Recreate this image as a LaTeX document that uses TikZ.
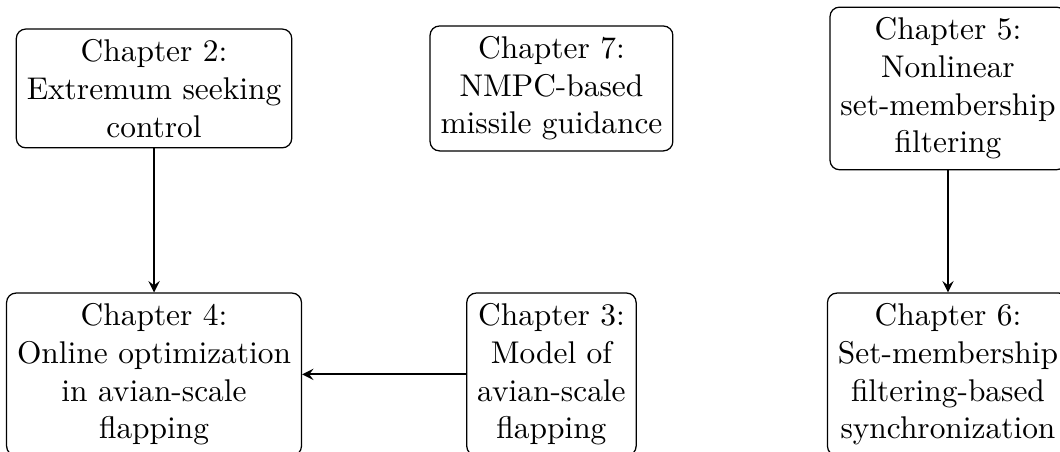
\documentclass[tikz,border=0pt]{standalone}
\usepackage{tikz}
\usetikzlibrary{positioning}
\tikzstyle{chapter} = [rectangle, rounded corners=3pt, draw=black, align=center, inner sep=3.33pt]
\tikzstyle{connector} = [semithick,->,>=stealth]

\begin{document}
\begin{tikzpicture}
\useasboundingbox (0,0) rectangle (11.864,-5.059);

\node[chapter] (ch2) at (1.724,-0.99) {Chapter 2:\\Extremum seeking\\control};
\node[chapter] (ch7) at (6.172,-0.99) {Chapter 7:\\NMPC-based\\missile guidance};
\node[chapter] (ch5) at (10.61,-0.99) {Chapter 5:\\Nonlinear\\set-membership\\filtering};

\node[chapter] (ch4) at (1.724,-4.19) {Chapter 4:\\Online optimization\\in avian-scale\\flapping};
\node[chapter] (ch3) at (6.172,-4.19) {Chapter 3:\\Model of\\avian-scale\\flapping};
\node[chapter] (ch6) at (10.61,-4.19) {Chapter 6:\\Set-membership\\filtering-based\\synchronization};

\draw[connector] (ch2.south) -- (ch4.north);
\draw[connector] (ch3.west) -- (ch4.east);
\draw[connector] (ch5.south) -- (ch6.north);
\end{tikzpicture}
\end{document}
